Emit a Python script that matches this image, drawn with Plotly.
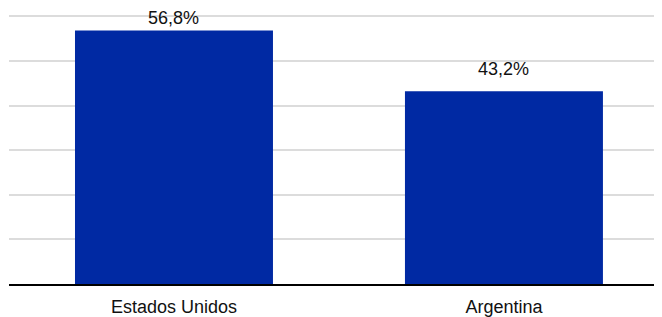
import plotly.graph_objects as go

categories = ["Estados Unidos", "Argentina"]
values = [56.8, 43.2]
value_labels = [f"{v:.1f}%".replace(".", ",") for v in values]
label_shift = [1, 10]  # pixel offsets of the value labels above the bars

fig = go.Figure(go.Bar(
    x=categories,
    y=values,
    marker=dict(color="#0029A3", line=dict(width=0)),
    width=0.6,
    hoverinfo="x+y",
))

for cat, val, lab, sh in zip(categories, values, value_labels, label_shift):
    fig.add_annotation(
        x=cat, y=val, text=lab, showarrow=False,
        xanchor="center", yanchor="bottom", yshift=sh,
        font=dict(family="Liberation Sans, Arial, sans-serif", size=18, color="#111111"),
    )

fig.update_layout(
    width=654, height=309,
    margin=dict(l=1, r=0, t=7, b=33),
    paper_bgcolor="white", plot_bgcolor="white",
    showlegend=False,
    font=dict(family="Liberation Sans, Arial, sans-serif", size=18, color="#111111"),
    xaxis=dict(
        range=[-0.5, 1.479],
        showline=True, linecolor="#000000", linewidth=2,
        showgrid=False, ticks="outside", ticklen=5, tickcolor="rgba(0,0,0,0)",
        tickfont=dict(size=18, color="#111111"),
    ),
    yaxis=dict(
        range=[0, 60.3], dtick=10,
        showgrid=True, gridcolor="#dcdcdc", gridwidth=2,
        showticklabels=False, zeroline=False, ticks="",
    ),
)

fig.write_html("out.html")
